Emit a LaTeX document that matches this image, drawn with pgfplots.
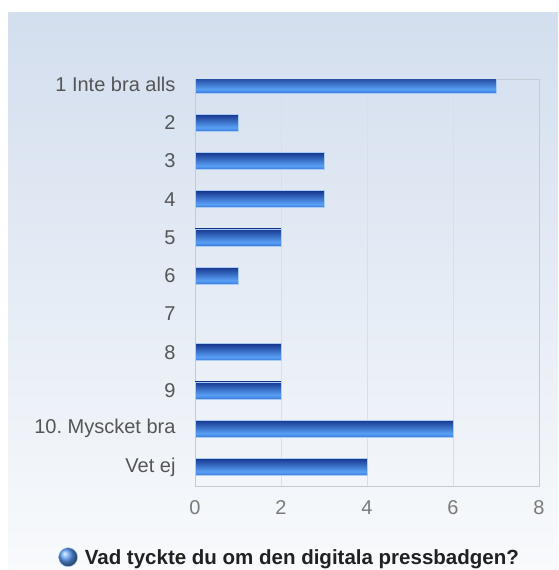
\documentclass[border=0pt]{standalone}
\usepackage{fontspec}
\setmainfont{Liberation Sans}
\usepackage{pgfplots}
\pgfplotsset{compat=1.18}
\frenchspacing

\definecolor{bgtop}{HTML}{D3DEEE}
\definecolor{bgbot}{HTML}{F8FAFC}
\definecolor{bardark}{HTML}{16368E}
\definecolor{barlight}{HTML}{58A0F5}
\definecolor{barbot}{HTML}{3B78DA}
\definecolor{barrim}{HTML}{A8CCF5}
\definecolor{axisgray}{HTML}{C5CBD3}
\definecolor{gridgray}{HTML}{D9DFE7}
\definecolor{labelgray}{HTML}{555555}
\definecolor{tickgray}{HTML}{7A7A7A}
\definecolor{ballblue}{HTML}{5A9AF2}

% bar gradient: dark navy top, bright blue lower middle
\pgfdeclareverticalshading{barshade}{100bp}{
  color(0bp)=(barbot); color(25bp)=(barbot); color(36bp)=(barlight);
  color(75bp)=(bardark); color(100bp)=(bardark)}

\pgfplotsset{
  mybar/.style={xbar, bar width=17pt, bar shift=0pt,
    draw=barrim, line width=0.5pt, shading=barshade},
}

\begin{document}
\begin{tikzpicture}
  % page and chart background (1pt = 1px of the reference)
  \fill[white] (0,0) rectangle (558pt,-570pt);
  \shade[top color=bgtop, bottom color=bgbot] (8pt,-12pt) rectangle (558pt,-570pt);

  \begin{axis}[
      at={(195pt,-486pt)}, anchor=south west,
      scale only axis,
      width=344pt, height=407pt,
      xmin=0, xmax=8,
      ymin=-0.144, ymax=10.5,
      y dir=reverse,
      xtick={0,2,4,6,8},
      ytick={0,...,10},
      yticklabels={1 Inte bra alls,2,3,4,5,6,7,8,9,10. Myscket bra,Vet ej},
      major tick length=0pt,
      xmajorgrids,
      grid style={gridgray, line width=0.6pt},
      axis line style={axisgray, line width=0.8pt},
      /pgf/number format/assume math mode=true,
      tick label style={font=\fontsize{20}{24}\selectfont},
      yticklabel style={labelgray, xshift=-16pt},
      xticklabel style={tickgray, yshift=-11pt},
      legend style={at={(0.275,-0.176)}, anchor=center, draw=none, fill=none,
        font=\bfseries\fontsize{20.5}{24}\selectfont, text=black!87,
        inner sep=0pt},
      legend image code/.code={
        \shade[ball color=ballblue] (0pt,0.05em) circle (9.5pt);
        \path (14.5pt,0pt);
      },
    ]
    \addplot[mybar] coordinates {(7,0)};
    \addlegendentry{Vad tyckte du om den digitala pressbadgen?}
    \addplot[mybar, forget plot] coordinates {(1,1)};
    \addplot[mybar, forget plot] coordinates {(3,2)};
    \addplot[mybar, forget plot] coordinates {(3,3)};
    \addplot[mybar, forget plot] coordinates {(2,4)};
    \addplot[mybar, forget plot] coordinates {(1,5)};
    % 7: no answers
    \addplot[mybar, forget plot] coordinates {(2,7)};
    \addplot[mybar, forget plot] coordinates {(2,8)};
    \addplot[mybar, forget plot] coordinates {(6,9)};
    \addplot[mybar, forget plot] coordinates {(4,10)};
  \end{axis}
\end{tikzpicture}
\end{document}
